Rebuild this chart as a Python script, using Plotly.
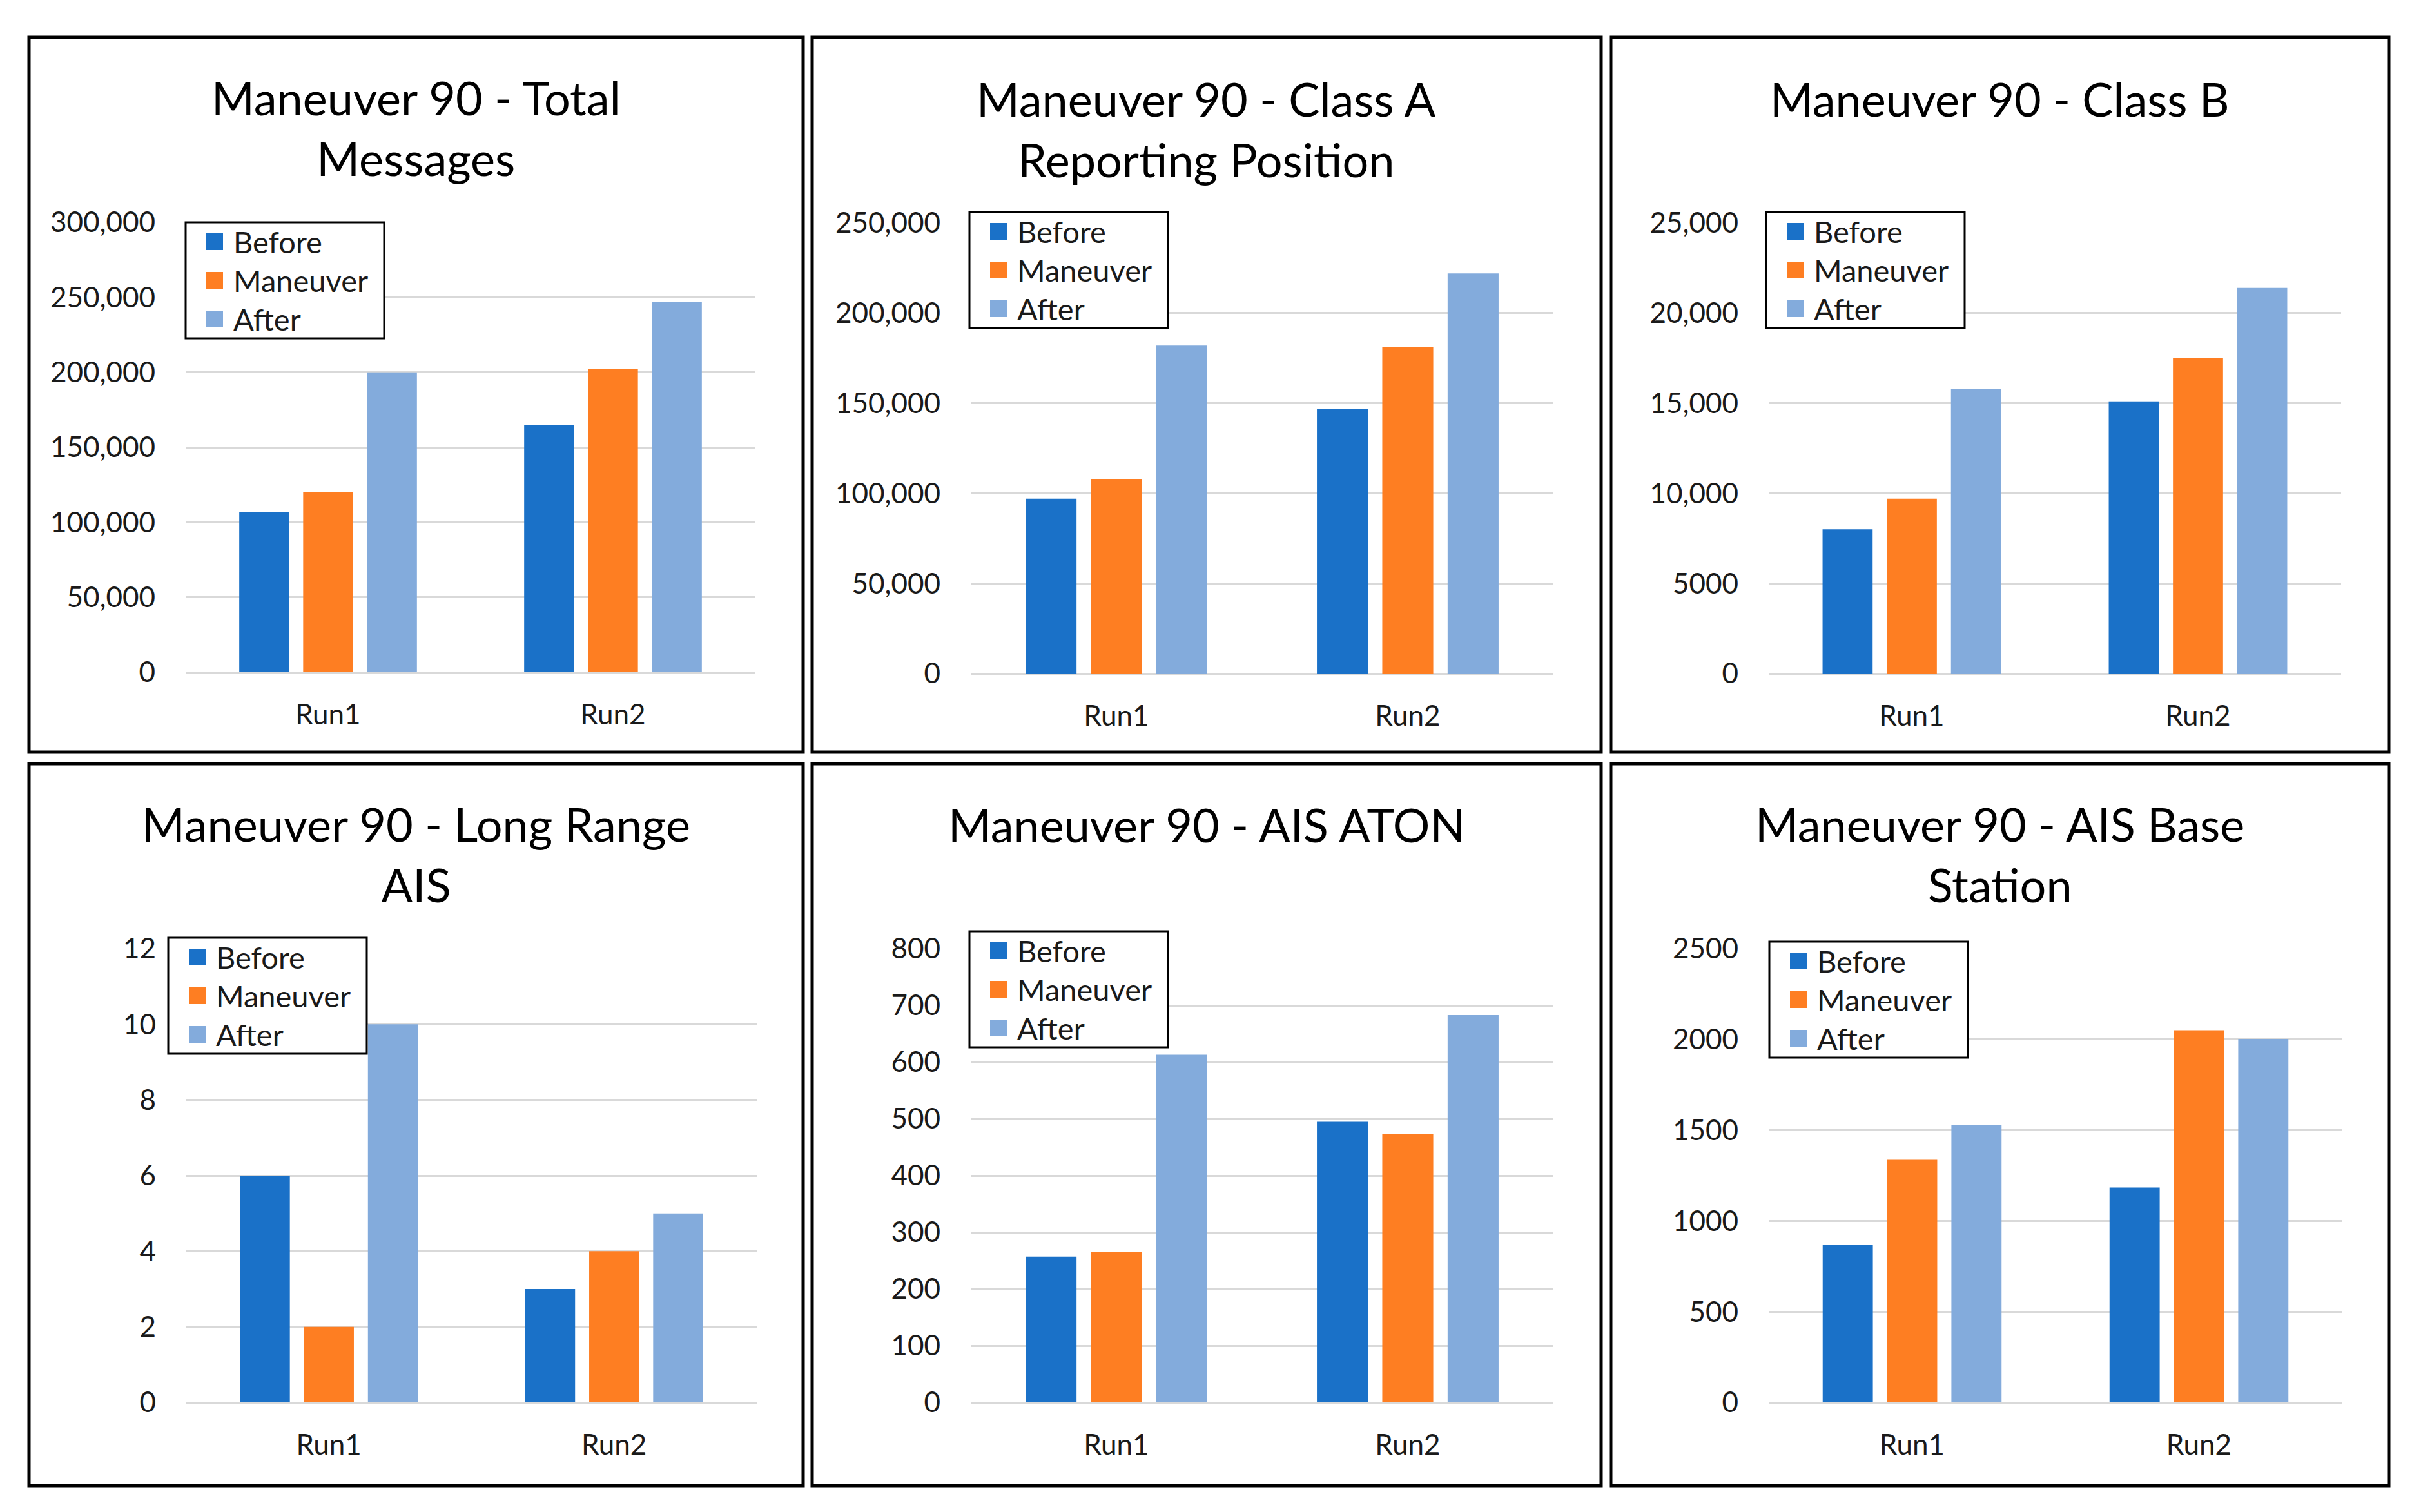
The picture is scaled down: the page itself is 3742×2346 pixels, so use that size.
import plotly.graph_objects as go

W, H = 3742, 2346

# ---------------- data ----------------
categories = ["Run1", "Run2"]
series_names = ["Before", "Maneuver", "After"]

total_before = [107000, 165000]
total_maneuver = [120000, 202000]
total_after = [200000, 247000]

classA_before = [97000, 147000]
classA_maneuver = [108000, 181000]
classA_after = [182000, 222000]

classB_before = [8000, 15100]
classB_maneuver = [9700, 17500]
classB_after = [15800, 21400]

longrange_before = [6, 3]
longrange_maneuver = [2, 4]
longrange_after = [10, 5]

aton_before = [257, 495]
aton_maneuver = [266, 473]
aton_after = [613, 683]

base_before = [870, 1184]
base_maneuver = [1337, 2051]
base_after = [1528, 2003]

total_tickvals = [0, 50000, 100000, 150000, 200000, 250000, 300000]
total_ticktext = ["0", "50,000", "100,000", "150,000", "200,000", "250,000", "300,000"]
classA_tickvals = [0, 50000, 100000, 150000, 200000, 250000]
classA_ticktext = ["0", "50,000", "100,000", "150,000", "200,000", "250,000"]
classB_tickvals = [0, 5000, 10000, 15000, 20000, 25000]
classB_ticktext = ["0", "5000", "10,000", "15,000", "20,000", "25,000"]
longrange_tickvals = [0, 2, 4, 6, 8, 10, 12]
longrange_ticktext = ["0", "2", "4", "6", "8", "10", "12"]
aton_tickvals = [0, 100, 200, 300, 400, 500, 600, 700, 800]
aton_ticktext = ["0", "100", "200", "300", "400", "500", "600", "700", "800"]
base_tickvals = [0, 500, 1000, 1500, 2000, 2500]
base_ticktext = ["0", "500", "1000", "1500", "2000", "2500"]

titles = [
    "Maneuver 90 - Total<br>Messages",
    "Maneuver 90 - Class A<br>Reporting Position",
    "Maneuver 90 - Class B",
    "Maneuver 90 - Long Range<br>AIS",
    "Maneuver 90 - AIS ATON",
    "Maneuver 90 - AIS Base<br>Station",
]

panels_data = [
    (total_before, total_maneuver, total_after, total_tickvals, total_ticktext),
    (classA_before, classA_maneuver, classA_after, classA_tickvals, classA_ticktext),
    (classB_before, classB_maneuver, classB_after, classB_tickvals, classB_ticktext),
    (longrange_before, longrange_maneuver, longrange_after, longrange_tickvals, longrange_ticktext),
    (aton_before, aton_maneuver, aton_after, aton_tickvals, aton_ticktext),
    (base_before, base_maneuver, base_after, base_tickvals, base_ticktext),
]

# ---------------- style / layout (pixel geometry) ----------------
colors = ["#1A71C8", "#FE7E22", "#83ABDC"]
FONT = "Lato"
TICK_SIZE = 44
LEGEND_SIZE = 47
TITLE_SIZE = 72
TEXT_COLOR = "#1a1a1a"

# panel frame boxes (x0, y0, x1, y1) in px
frames = [
    (45, 58, 1246, 1167), (1260, 58, 2484, 1167), (2499, 58, 3706, 1167),
    (45, 1185, 1246, 2305), (1260, 1185, 2484, 2305), (2499, 1185, 3706, 2305),
]
# plot areas (x0, x1, ytop, ybottom) in px
plots = [
    (288, 1172, 345, 1043), (1506, 2410, 346, 1045), (2744, 3632, 346, 1045),
    (289, 1174, 1472, 2176), (1506, 2410, 1472, 2176), (2744, 3634, 1472, 2176),
]
# legend box top-left in px, and box geometry
legend_pos = [(288, 345), (1504, 329), (2740, 329), (261, 1455), (1504, 1445), (2745, 1461)]
LEG_W, LEG_H = 308, 180
LEG_ROWS = [30, 90, 150]      # row centres from box top
LEG_MARK_X = 45               # marker centre from box left
LEG_MARK = 26                 # marker side
LEG_TEXT_X = 72               # text start from box left
# title centers (x, y) in px
title_pos = [(645, 198), (1872, 200), (3102, 153), (645, 1325), (1872, 1279), (3102, 1325)]


def px(x):
    return x / W


def py(y):
    return 1 - y / H


fig = go.Figure()
layout = dict(
    width=W, height=H,
    margin=dict(l=0, r=0, t=0, b=0, autoexpand=False),
    paper_bgcolor="white", plot_bgcolor="white",
    barmode="group", bargap=0.327, bargroupgap=0.22,
    font=dict(family=FONT, size=TICK_SIZE, color=TEXT_COLOR),
    showlegend=False,
    annotations=[], shapes=[],
)

for i, (b, m, a, tv, tt) in enumerate(panels_data):
    n = i + 1
    xa = "x" if n == 1 else f"x{n}"
    ya = "y" if n == 1 else f"y{n}"
    for name, vals, col in zip(series_names, [b, m, a], colors):
        fig.add_trace(go.Bar(x=categories, y=vals, name=name,
                             marker=dict(color=col, line=dict(width=0)),
                             xaxis=xa, yaxis=ya))
    x0, x1, yt, yb = plots[i]
    xkey = "xaxis" if n == 1 else f"xaxis{n}"
    ykey = "yaxis" if n == 1 else f"yaxis{n}"
    layout[xkey] = dict(domain=[px(x0), px(x1)], anchor=ya, type="category",
                        showgrid=False, zeroline=False, showline=False, ticks="",
                        ticklabelstandoff=36, fixedrange=True, automargin=False,
                        tickfont=dict(size=TICK_SIZE, family=FONT, color=TEXT_COLOR))
    layout[ykey] = dict(domain=[py(yb), py(yt)], anchor=xa, range=[0, tv[-1]],
                        tickvals=tv, ticktext=tt, showgrid=True, gridcolor="#D9D9D9", gridwidth=3,
                        zeroline=True, zerolinecolor="#D9D9D9", zerolinewidth=3, showline=False,
                        ticks="", ticklabelstandoff=46, fixedrange=True, automargin=False,
                        tickfont=dict(size=TICK_SIZE, family=FONT, color=TEXT_COLOR))

    # panel frame
    fx0, fy0, fx1, fy1 = frames[i]
    layout["shapes"].append(dict(type="rect", xref="paper", yref="paper",
                                 x0=px(fx0), x1=px(fx1), y0=py(fy1), y1=py(fy0),
                                 line=dict(color="black", width=5),
                                 fillcolor="rgba(0,0,0,0)", layer="above"))
    # title
    tx, ty = title_pos[i]
    layout["annotations"].append(dict(text=titles[i], xref="paper", yref="paper",
                                      x=px(tx), y=py(ty), xanchor="center", yanchor="middle",
                                      showarrow=False,
                                      font=dict(family=FONT, size=TITLE_SIZE, color="black")))
    # legend box
    lx, ly = legend_pos[i]
    layout["shapes"].append(dict(type="rect", xref="paper", yref="paper",
                                 x0=px(lx), x1=px(lx + LEG_W), y0=py(ly + LEG_H), y1=py(ly),
                                 line=dict(color="black", width=3), fillcolor="white",
                                 layer="above"))
    for name, col, row in zip(series_names, colors, LEG_ROWS):
        cy = ly + row
        cx = lx + LEG_MARK_X
        layout["shapes"].append(dict(type="rect", xref="paper", yref="paper",
                                     x0=px(cx - LEG_MARK / 2), x1=px(cx + LEG_MARK / 2),
                                     y0=py(cy + LEG_MARK / 2), y1=py(cy - LEG_MARK / 2),
                                     line=dict(width=0), fillcolor=col, layer="above"))
        layout["annotations"].append(dict(text=name, xref="paper", yref="paper",
                                          x=px(lx + LEG_TEXT_X), y=py(cy),
                                          xanchor="left", yanchor="middle", showarrow=False,
                                          font=dict(family=FONT, size=LEGEND_SIZE, color=TEXT_COLOR)))

fig.update_layout(**layout)
fig.write_html("out.html", post_script="document.body.style.margin='0';",
               config={"displayModeBar": False})
